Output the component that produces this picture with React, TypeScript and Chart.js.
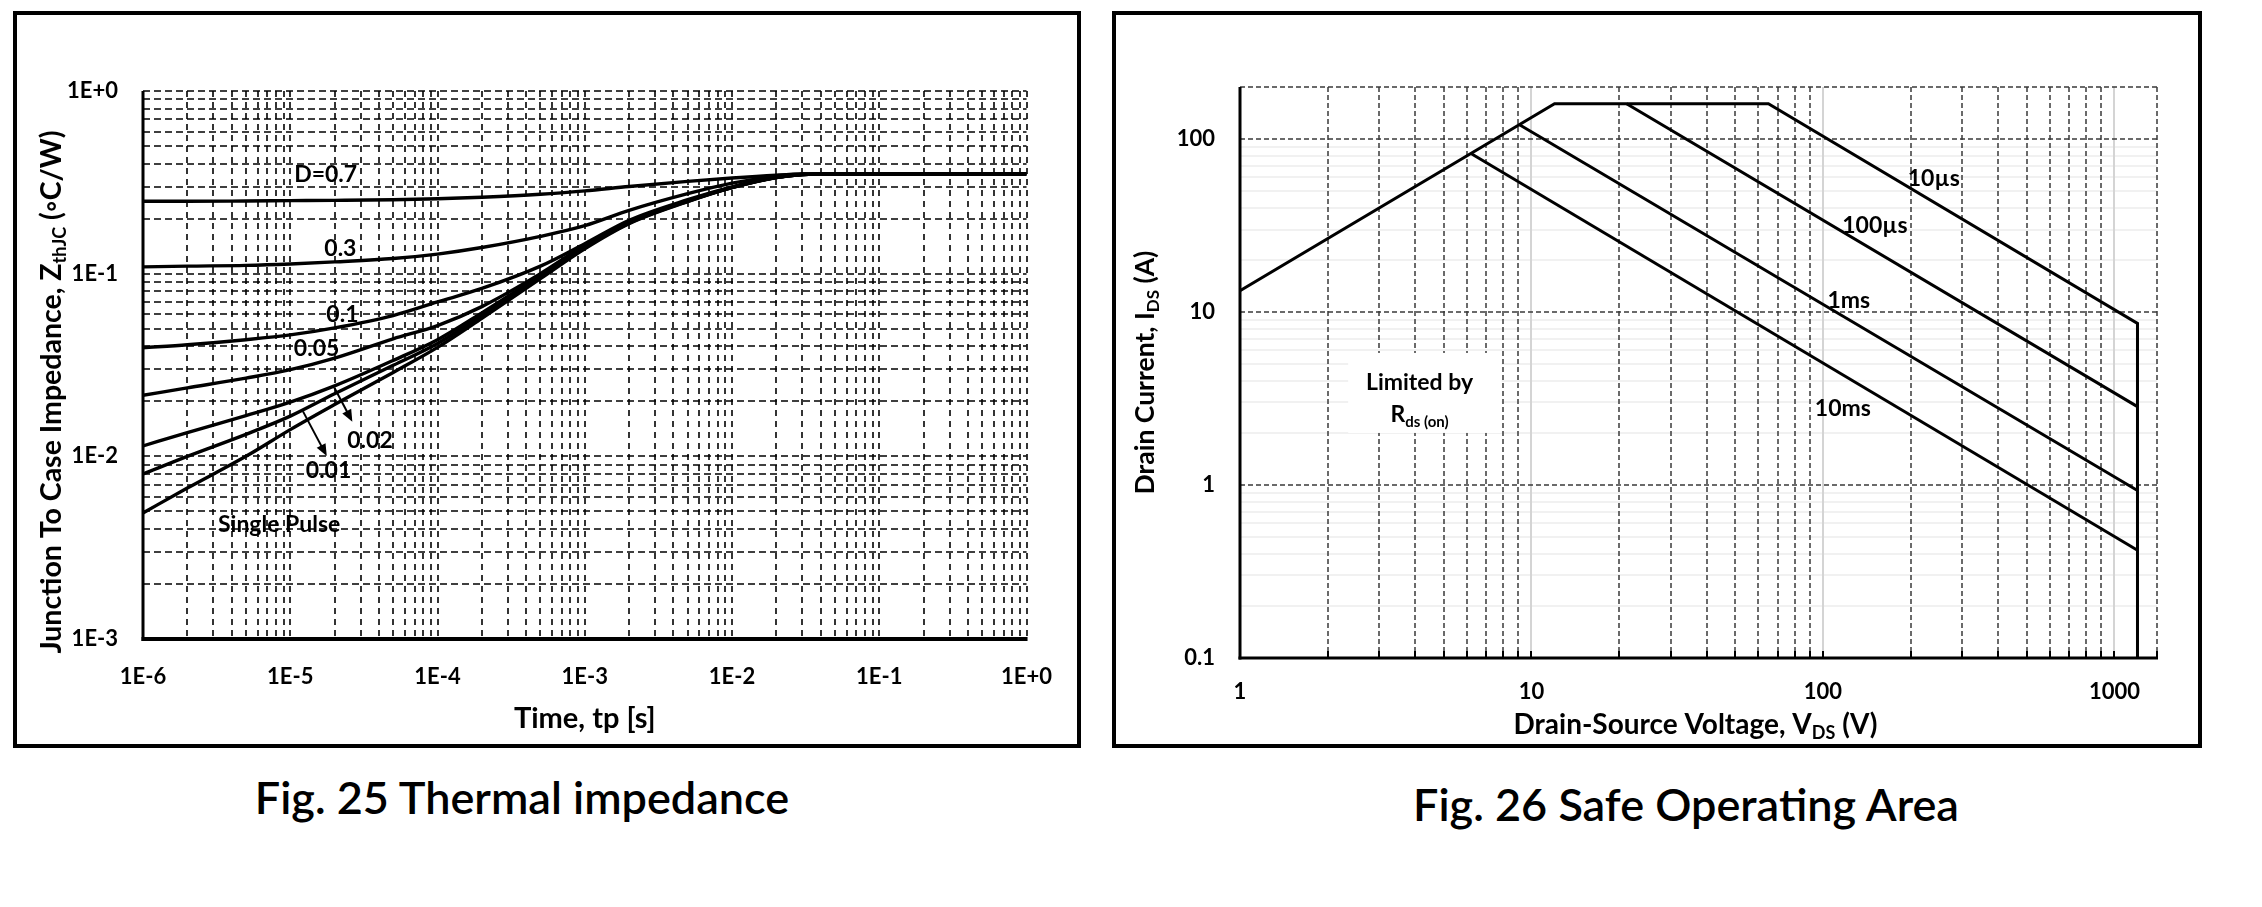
import React, { useEffect, useRef } from "react";
import { Chart, registerables } from "chart.js";

Chart.register(...registerables);

const FONT = "Lato, 'Open Sans', 'DejaVu Sans', sans-serif";

// ================= Fig. 25 Thermal impedance =================
const pulseTimes = [1e-6, 2e-6, 5e-6, 1e-5, 2e-5, 5e-5, 1e-4, 2e-4, 5e-4, 1e-3, 2e-3, 5e-3, 1e-2, 2e-2, 3e-2, 5e-2, 1e-1, 1];
const zthD07 = [0.249, 0.249, 0.25, 0.251, 0.252, 0.254, 0.257, 0.262, 0.272, 0.284, 0.3, 0.32, 0.334, 0.346, 0.351, 0.352, 0.352, 0.352];
const zthD03 = [0.109, 0.11, 0.111, 0.113, 0.116, 0.121, 0.128, 0.139, 0.16, 0.183, 0.222, 0.274, 0.313, 0.342, 0.35, 0.352, 0.352, 0.352];
const zthD01 = [0.0393, 0.0408, 0.0435, 0.0462, 0.0505, 0.059, 0.07, 0.083, 0.11, 0.146, 0.196, 0.254, 0.299, 0.337, 0.349, 0.352, 0.352, 0.352];
const zthD005 = [0.0216, 0.0237, 0.0268, 0.0298, 0.0345, 0.044, 0.052, 0.066, 0.1, 0.143, 0.192, 0.251, 0.297, 0.337, 0.349, 0.352, 0.352, 0.352];
const zthD002 = [0.0114, 0.0135, 0.0167, 0.0198, 0.0243, 0.0335, 0.0435, 0.061, 0.098, 0.141, 0.191, 0.25, 0.297, 0.337, 0.349, 0.352, 0.352, 0.352];
const zthD001 = [0.008, 0.01, 0.0132, 0.0166, 0.022, 0.0315, 0.0415, 0.059, 0.096, 0.139, 0.189, 0.249, 0.296, 0.336, 0.349, 0.352, 0.352, 0.352];
const zthSingle = [0.0049, 0.0067, 0.01, 0.014, 0.0192, 0.0288, 0.0395, 0.057, 0.094, 0.137, 0.188, 0.248, 0.296, 0.336, 0.349, 0.352, 0.352, 0.352];
const zthSeries = [zthD07, zthD03, zthD01, zthD005, zthD002, zthD001, zthSingle];

const dutyLabels = ["D=0.7", "0.3", "0.1", "0.05", "0.02", "0.01", "Single Pulse"];
const dutyLabelT = [1.74e-5, 2.19e-5, 2.26e-5, 1.51e-5, 3.48e-5, 1.82e-5, 8.41e-6];
const dutyLabelZ = [0.351, 0.138, 0.0601, 0.0392, 0.01229, 0.00842, 0.00426];
const arrowFromT = [1.99e-5, 1.22e-5];
const arrowFromZ = [0.02384, 0.01762];
const arrowToT = [2.64e-5, 1.77e-5];
const arrowToZ = [0.01545, 0.01003];

const timeTickValues = [1e-6, 1e-5, 1e-4, 1e-3, 1e-2, 1e-1, 1];
const timeTickLabels = ["1E-6", "1E-5", "1E-4", "1E-3", "1E-2", "1E-1", "1E+0"];
const zthTickValues = [1e-3, 1e-2, 1e-1, 1];
const zthTickLabels = ["1E-3", "1E-2", "1E-1", "1E+0"];

// ================= Fig. 26 Safe Operating Area =================
const soaEnvelopeV = [1, 12, 65, 1200, 1200];
const soaEnvelopeI = [13.3, 160, 160, 8.6, 0.1];
const soa100usV = [21.2, 1200];
const soa100usI = [160, 2.84];
const soa1msV = [9.1, 1200];
const soa1msI = [121, 0.93];
const soa10msV = [6.2, 1200];
const soa10msI = [82.5, 0.42];

const soaLabels = ["10µs", "100µs", "1ms", "10ms"];
const soaLabelV = [240, 150.7, 122.7, 117];
const soaLabelI = [59.6, 31.9, 11.8, 2.77];

const vdsTickValues = [1, 10, 100, 1000];
const vdsTickLabels = ["1", "10", "100", "1000"];
const idsTickValues = [0.1, 1, 10, 100];
const idsTickLabels = ["0.1", "1", "10", "100"];

// grid multipliers inside a decade
const GRID_MULT = [1, 2, 3, 4, 5, 6, 7, 8, 9];
const MINOR_MULT = [2, 3, 4, 5, 6, 7, 8, 9];
function logGrid(e0: number, e1: number, mult: number[]) {
  const out: number[] = [];
  for (let e = e0; e <= e1; e++) for (const k of mult) out.push(k * Math.pow(10, e));
  return out;
}

function strokeLine(ctx: any, x1: number, y1: number, x2: number, y2: number) {
  ctx.beginPath();
  ctx.moveTo(x1, y1);
  ctx.lineTo(x2, y2);
  ctx.stroke();
}

type Seg = { t: string; s: number; dy?: number };
function drawRich(ctx: any, segs: Seg[], cx: number, baseY: number, weight: string) {
  let total = 0;
  const widths = segs.map((sg) => {
    ctx.font = `${weight} ${sg.s}px ${FONT}`;
    const w = ctx.measureText(sg.t).width;
    total += w;
    return w;
  });
  let x = cx - total / 2;
  ctx.textAlign = "left";
  ctx.textBaseline = "alphabetic";
  segs.forEach((sg, i) => {
    ctx.font = `${weight} ${sg.s}px ${FONT}`;
    ctx.fillText(sg.t, x, baseY + (sg.dy || 0));
    x += widths[i];
  });
}

function drawArrow(ctx: any, x1: number, y1: number, x2: number, y2: number) {
  const ang = Math.atan2(y2 - y1, x2 - x1);
  const hl = 12;
  const hw = 5;
  const c = Math.cos(ang);
  const s = Math.sin(ang);
  ctx.lineWidth = 2;
  strokeLine(ctx, x1, y1, x2 - c * hl * 0.8, y2 - s * hl * 0.8);
  ctx.beginPath();
  ctx.moveTo(x2, y2);
  ctx.lineTo(x2 - c * hl - s * hw, y2 - s * hl + c * hw);
  ctx.lineTo(x2 - c * hl + s * hw, y2 - s * hl - c * hw);
  ctx.closePath();
  ctx.fill();
}

const timeGrid = logGrid(-6, -1, GRID_MULT).concat([1]);
const zthGrid = logGrid(-3, -1, GRID_MULT).concat([1]);

const thermalDecor = {
  id: "thermalDecor",
  beforeDatasetsDraw(chart: any) {
    const { ctx, chartArea: a } = chart;
    const xs = chart.scales.x;
    const ys = chart.scales.y;
    ctx.save();
    ctx.beginPath();
    ctx.rect(a.left - 2, a.top - 2, a.right - a.left + 4, a.bottom - a.top + 4);
    ctx.clip();
    ctx.strokeStyle = "#000";
    ctx.lineWidth = 1.6;
    ctx.setLineDash([6, 5]);
    for (const v of timeGrid) {
      if (v < 1.001e-6) continue;
      const px = Math.round(xs.getPixelForValue(v));
      strokeLine(ctx, px, a.top, px, a.bottom);
    }
    ctx.setLineDash([7, 4]);
    for (const v of zthGrid) {
      if (v < 1.001e-3) continue;
      const py = Math.round(ys.getPixelForValue(v));
      strokeLine(ctx, a.left, py, a.right, py);
    }
    ctx.restore();
    ctx.save();
    ctx.strokeStyle = "#000";
    ctx.setLineDash([]);
    ctx.lineWidth = 3;
    strokeLine(ctx, a.left, a.top, a.left, a.bottom + 2);
    ctx.lineWidth = 4;
    strokeLine(ctx, a.left - 1.5, a.bottom, a.right + 1, a.bottom);
    ctx.restore();
  },
  afterDatasetsDraw(chart: any) {
    const { ctx, chartArea: a } = chart;
    const xs = chart.scales.x;
    const ys = chart.scales.y;
    ctx.save();
    ctx.fillStyle = "#000";
    ctx.strokeStyle = "#000";
    ctx.font = `bold 23px ${FONT}`;
    ctx.textAlign = "center";
    ctx.textBaseline = "alphabetic";
    dutyLabels.forEach((t, i) => {
      const px = xs.getPixelForValue(dutyLabelT[i]);
      const py = ys.getPixelForValue(dutyLabelZ[i]);
      ctx.fillText(t, px, py + 8);
    });
    arrowFromT.forEach((t, i) => {
      drawArrow(
        ctx,
        xs.getPixelForValue(t),
        ys.getPixelForValue(arrowFromZ[i]),
        xs.getPixelForValue(arrowToT[i]),
        ys.getPixelForValue(arrowToZ[i])
      );
    });
    // x title
    drawRich(ctx, [{ t: "Time, tp [s]", s: 29 }], (a.left + a.right) / 2, a.bottom + 89, "bold");
    // y title
    ctx.translate(a.left - 90.4, a.top + 301);
    ctx.rotate(-Math.PI / 2);
    drawRich(
      ctx,
      [
        { t: "Junction To Case Impedance, Z", s: 28.5 },
        { t: "thJC", s: 18, dy: 5 },
        { t: " (◦C/W)", s: 28.5 },
      ],
      0,
      8,
      "bold"
    );
    ctx.restore();
  },
};

const vdsGridMinor = logGrid(0, 2, MINOR_MULT);
const vdsGridMajor = [10, 100, 1000];
const vdsGridEdge = [1400];
const idsGridMinor = logGrid(-1, 1, MINOR_MULT);
const idsGridMajor = [1, 10, 100, 200];
const rdsBoxV = [2.35, 7.9];
const rdsBoxI = [2.0, 5.8];

const soaDecor = {
  id: "soaDecor",
  beforeDatasetsDraw(chart: any) {
    const { ctx, chartArea: a } = chart;
    const xs = chart.scales.x;
    const ys = chart.scales.y;
    ctx.save();
    ctx.beginPath();
    ctx.rect(a.left - 2, a.top - 2, a.right - a.left + 4, a.bottom - a.top + 4);
    ctx.clip();
    // faint minor horizontals
    ctx.strokeStyle = "#ededed";
    ctx.lineWidth = 1.5;
    for (const v of idsGridMinor) {
      const py = Math.round(ys.getPixelForValue(v));
      strokeLine(ctx, a.left, py, a.right, py);
    }
    // faint major verticals
    ctx.strokeStyle = "#d4d4d4";
    ctx.lineWidth = 2;
    for (const v of vdsGridMajor) {
      const px = Math.round(xs.getPixelForValue(v));
      strokeLine(ctx, px, a.top, px, a.bottom);
    }
    // dashed lines
    ctx.strokeStyle = "#3a3a3a";
    ctx.lineWidth = 1.5;
    ctx.setLineDash([5, 3]);
    for (const v of vdsGridMinor.concat(vdsGridEdge)) {
      const px = Math.round(xs.getPixelForValue(v));
      strokeLine(ctx, px, a.top, px, a.bottom);
    }
    for (const v of idsGridMajor) {
      const py = Math.round(ys.getPixelForValue(v));
      strokeLine(ctx, a.left, py, a.right, py);
    }
    ctx.setLineDash([]);
    // small tick marks on x axis
    ctx.lineWidth = 2;
    ctx.strokeStyle = "#000";
    for (const v of vdsGridMinor.concat(vdsGridMajor, vdsGridEdge)) {
      const px = Math.round(xs.getPixelForValue(v));
      strokeLine(ctx, px, a.bottom - 7, px, a.bottom);
    }
    // white box behind the Rds(on) note
    const bx1 = xs.getPixelForValue(rdsBoxV[0]);
    const bx2 = xs.getPixelForValue(rdsBoxV[1]);
    const by1 = ys.getPixelForValue(rdsBoxI[1]);
    const by2 = ys.getPixelForValue(rdsBoxI[0]);
    ctx.fillStyle = "#fff";
    ctx.fillRect(bx1, by1, bx2 - bx1, by2 - by1);
    ctx.restore();
    ctx.save();
    ctx.strokeStyle = "#000";
    ctx.lineWidth = 3;
    strokeLine(ctx, a.left, a.top, a.left, a.bottom + 1.5);
    strokeLine(ctx, a.left - 1.5, a.bottom, a.right + 1, a.bottom);
    ctx.restore();
  },
  afterDatasetsDraw(chart: any) {
    const { ctx, chartArea: a } = chart;
    const xs = chart.scales.x;
    const ys = chart.scales.y;
    ctx.save();
    ctx.fillStyle = "#000";
    ctx.font = `bold 23px ${FONT}`;
    ctx.textAlign = "center";
    ctx.textBaseline = "alphabetic";
    soaLabels.forEach((t, i) => {
      ctx.fillText(t, xs.getPixelForValue(soaLabelV[i]), ys.getPixelForValue(soaLabelI[i]) + 8);
    });
    const nx = xs.getPixelForValue(4.13);
    ctx.fillText("Limited by", nx, ys.getPixelForValue(3.96) + 8);
    drawRich(
      ctx,
      [
        { t: "R", s: 23 },
        { t: "ds (on)", s: 15, dy: 5 },
      ],
      nx,
      ys.getPixelForValue(2.59) + 8,
      "bold"
    );
    drawRich(
      ctx,
      [
        { t: "Drain-Source Voltage, V", s: 28 },
        { t: "DS", s: 18, dy: 5 },
        { t: " (V)", s: 28 },
      ],
      (a.left + a.right) / 2 - 3,
      a.bottom + 76,
      "bold"
    );
    ctx.translate(a.left - 94, (a.top + a.bottom) / 2);
    ctx.rotate(-Math.PI / 2);
    drawRich(
      ctx,
      [
        { t: "Drain Current, I", s: 26.5 },
        { t: "DS", s: 17, dy: 5 },
        { t: " (A)", s: 26.5 },
      ],
      0,
      7.5,
      "bold"
    );
    ctx.restore();
  },
};

function toPoints(xsArr: number[], ysArr: number[]) {
  return xsArr.map((x, i) => ({ x, y: ysArr[i] }));
}

const tickFont = { family: FONT, size: 22, weight: "bold" as const };

function App() {
  const leftRef = useRef<HTMLCanvasElement | null>(null);
  const rightRef = useRef<HTMLCanvasElement | null>(null);

  useEffect(() => {
    const lc = leftRef.current;
    const rc = rightRef.current;
    if (!lc || !rc) return;

    const left = new Chart(lc, {
      type: "line",
      data: {
        datasets: zthSeries.map((arr, i) => ({
          label: dutyLabels[i],
          data: toPoints(pulseTimes, arr),
          borderColor: "#000",
          borderWidth: 3.4,
          pointRadius: 0,
          fill: false,
          cubicInterpolationMode: "monotone" as const,
        })),
      },
      options: {
        responsive: false,
        animation: false,
        devicePixelRatio: 1,
        events: [],
        layout: { padding: { left: 0, top: 76, right: 39, bottom: 0 } },
        plugins: { legend: { display: false }, tooltip: { enabled: false } },
        scales: {
          x: {
            type: "logarithmic",
            min: 1e-6,
            max: 1,
            position: "bottom",
            grid: { display: false, drawTicks: false },
            border: { display: false },
            ticks: {
              autoSkip: false,
              maxRotation: 0,
              minRotation: 0,
              padding: 25,
              color: "#000",
              font: tickFont,
              callback: (_v: any, idx: number) => timeTickLabels[idx],
            },
            afterBuildTicks: (s: any) => {
              s.ticks = timeTickValues.map((value) => ({ value }));
            },
            afterFit: (s: any) => {
              s.height = 105;
            },
          },
          y: {
            type: "logarithmic",
            min: 1e-3,
            max: 1,
            position: "left",
            grid: { display: false, drawTicks: false },
            border: { display: false },
            ticks: {
              autoSkip: false,
              padding: 25,
              color: "#000",
              font: tickFont,
              callback: (_v: any, idx: number) => zthTickLabels[idx],
            },
            afterBuildTicks: (s: any) => {
              s.ticks = zthTickValues.map((value) => ({ value }));
            },
            afterFit: (s: any) => {
              s.width = 126;
            },
          },
        },
      },
      plugins: [thermalDecor],
    } as any);

    const soaSets = [
      [soaEnvelopeV, soaEnvelopeI],
      [soa100usV, soa100usI],
      [soa1msV, soa1msI],
      [soa10msV, soa10msI],
    ];
    const right = new Chart(rc, {
      type: "line",
      data: {
        datasets: soaSets.map(([v, i], k) => ({
          label: soaLabels[k],
          data: toPoints(v, i),
          borderColor: "#000",
          borderWidth: 3,
          pointRadius: 0,
          fill: false,
          tension: 0,
        })),
      },
      options: {
        responsive: false,
        animation: false,
        devicePixelRatio: 1,
        events: [],
        layout: { padding: { left: 0, top: 72, right: 41, bottom: 0 } },
        plugins: { legend: { display: false }, tooltip: { enabled: false } },
        scales: {
          x: {
            type: "logarithmic",
            min: 1,
            max: 1400,
            position: "bottom",
            grid: { display: false, drawTicks: false },
            border: { display: false },
            ticks: {
              autoSkip: false,
              maxRotation: 0,
              minRotation: 0,
              padding: 21,
              color: "#000",
              font: tickFont,
              callback: (_v: any, idx: number) => vdsTickLabels[idx],
            },
            afterBuildTicks: (s: any) => {
              s.ticks = vdsTickValues.map((value) => ({ value }));
            },
            afterFit: (s: any) => {
              s.height = 86;
            },
          },
          y: {
            type: "logarithmic",
            min: 0.1,
            max: 200,
            position: "left",
            grid: { display: false, drawTicks: false },
            border: { display: false },
            ticks: {
              autoSkip: false,
              padding: 25,
              color: "#000",
              font: tickFont,
              callback: (_v: any, idx: number) => idsTickLabels[idx],
            },
            afterBuildTicks: (s: any) => {
              s.ticks = idsTickValues.map((value) => ({ value }));
            },
            afterFit: (s: any) => {
              s.width = 124;
            },
          },
        },
      },
      plugins: [soaDecor],
    } as any);

    return () => {
      left.destroy();
      right.destroy();
    };
  }, []);

  const frame = (l: number, w: number) => ({
    position: "absolute" as const,
    left: l,
    top: 11,
    width: w,
    height: 737,
    boxSizing: "border-box" as const,
    border: "4px solid #000",
    background: "#fff",
  });
  const caption = (cx: number, top: number) => ({
    position: "absolute" as const,
    left: cx - 400,
    top,
    width: 800,
    textAlign: "center" as const,
    font: `600 45px ${FONT}`,
    lineHeight: "54px",
    color: "#000",
    whiteSpace: "nowrap" as const,
  });

  return (
    <div>
      <div style={frame(13, 1068)} />
      <div style={frame(1112, 1090)} />
      <canvas
        ref={leftRef}
        width={1060}
        height={729}
        style={{ position: "absolute", left: 17, top: 15, width: 1060, height: 729 }}
      />
      <canvas
        ref={rightRef}
        width={1082}
        height={729}
        style={{ position: "absolute", left: 1116, top: 15, width: 1082, height: 729 }}
      />
      <div style={caption(522, 770)}>Fig. 25 Thermal impedance</div>
      <div style={caption(1686, 777)}>Fig. 26 Safe Operating Area</div>
    </div>
  );
}

export default App;
